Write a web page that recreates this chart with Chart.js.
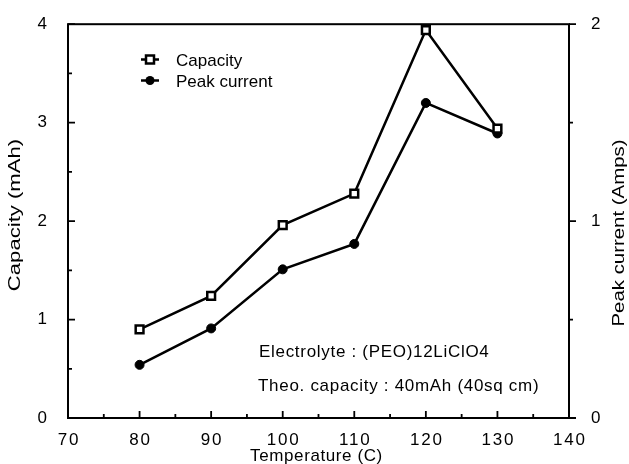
<!DOCTYPE html>
<html><head><meta charset="utf-8">
<script src="https://cdn.jsdelivr.net/npm/chart.js@4/dist/chart.umd.min.js"></script>
<style>html,body{margin:0;padding:0;background:#fff}canvas{display:block}</style>
</head><body>
<canvas id="c" width="629" height="464"></canvas>
<script>
const temperatures = [80, 90, 100, 110, 120, 130];
const capacity = [0.90, 1.24, 1.96, 2.28, 3.94, 2.94];
const peakCurrent = [0.27, 0.455, 0.755, 0.884, 1.60, 1.445];
const xTickLabels = [70, 80, 90, 100, 110, 120, 130, 140];
const seriesNames = ['Capacity', 'Peak current'];
const notes = ['Electrolyte : (PEO)12LiClO4', 'Theo. capacity : 40mAh (40sq cm)'];
const titles = { x: 'Temperature (C)', y: 'Capacity (mAh)', y1: 'Peak current (Amps)' };

const FAM = '"Liberation Sans", Arial, Helvetica, sans-serif';

function txt(ctx, s, x, y) {
  ctx.fillText(s, x, y);
}

const custom = {
  id: 'custom',
  afterDraw(chart) {
    const ctx = chart.ctx, ca = chart.chartArea;
    const sx = chart.scales.x, sy = chart.scales.y, sy1 = chart.scales.y1;
    ctx.save();
    ctx.strokeStyle = '#000'; ctx.fillStyle = '#000'; ctx.lineWidth = 2;
    ctx.strokeRect(ca.left, ca.top, ca.right - ca.left, ca.bottom - ca.top);
    ctx.lineWidth = 1.8;
    ctx.beginPath();
    sx.ticks.forEach(t => {
      const p = sx.getPixelForValue(t.value);
      const len = t.value % 10 === 0 ? 7 : 4;
      ctx.moveTo(p, ca.bottom); ctx.lineTo(p, ca.bottom - len);
    });
    sy.ticks.forEach(t => {
      const p = sy.getPixelForValue(t.value);
      const len = Number.isInteger(t.value) ? 7 : 4;
      ctx.moveTo(ca.left, p); ctx.lineTo(ca.left + len, p);
    });
    sy1.ticks.forEach(t => {
      const p = sy1.getPixelForValue(t.value);
      const len = Number.isInteger(t.value) ? 7 : 4;
      ctx.moveTo(ca.right, p); ctx.lineTo(ca.right + len, p);
    });
    ctx.stroke();

    // x tick labels
    ctx.font = '17px ' + FAM;
    ctx.textAlign = 'center'; ctx.textBaseline = 'middle';
    ctx.letterSpacing = '1.8px';
    xTickLabels.forEach(v => {
      txt(ctx, String(v), sx.getPixelForValue(v) + 0.9, 440);
    });
    // x title
    ctx.letterSpacing = '0.6px';
    ctx.textBaseline = 'alphabetic';
    txt(ctx, titles.x, (ca.left + ca.right) / 2 - 2, 461);

    // y titles (stretched)
    ctx.letterSpacing = '0px';
    ctx.textBaseline = 'middle';
    ctx.save();
    ctx.translate(15, 215); ctx.rotate(-Math.PI / 2); ctx.scale(1.3, 1);
    txt(ctx, titles.y, 0, 0);
    ctx.restore();
    ctx.save();
    ctx.translate(619, 233); ctx.rotate(-Math.PI / 2); ctx.scale(1.2, 1);
    txt(ctx, titles.y1, 0, 0);
    ctx.restore();

    // legend
    const ly = [59.5, 80.5];
    ctx.lineWidth = 2.5;
    ly.forEach((y, i) => {
      ctx.beginPath(); ctx.moveTo(141, y); ctx.lineTo(159, y); ctx.stroke();
      if (i === 0) {
        ctx.fillStyle = '#fff';
        ctx.fillRect(146, y - 4, 8, 8); ctx.strokeRect(146, y - 4, 8, 8);
        ctx.fillStyle = '#000';
      } else {
        ctx.beginPath(); ctx.arc(150, y, 4.5, 0, Math.PI * 2); ctx.fill();
      }
    });
    ctx.textAlign = 'left'; ctx.textBaseline = 'alphabetic';
    txt(ctx, seriesNames[0], 176, 66);
    txt(ctx, seriesNames[1], 176, 87);

    // notes
    ctx.letterSpacing = '0.7px';
    txt(ctx, notes[0], 259, 357);
    txt(ctx, notes[1], 258, 391);
    ctx.restore();
  }
};

new Chart(document.getElementById('c'), {
  type: 'line',
  data: {
    datasets: [
      {
        label: seriesNames[0],
        data: temperatures.map((t, i) => ({ x: t, y: capacity[i] })),
        yAxisID: 'y',
        borderColor: '#000', borderWidth: 2.5, tension: 0,
        pointStyle: 'rect', pointRadius: 5.5,
        pointBackgroundColor: '#fff', pointBorderColor: '#000', pointBorderWidth: 2.5
      },
      {
        label: seriesNames[1],
        data: temperatures.map((t, i) => ({ x: t, y: peakCurrent[i] })),
        yAxisID: 'y1',
        borderColor: '#000', borderWidth: 2.5, tension: 0,
        pointStyle: 'circle', pointRadius: 4.5,
        pointBackgroundColor: '#000', pointBorderColor: '#000', pointBorderWidth: 1
      }
    ]
  },
  options: {
    responsive: false, animation: false, devicePixelRatio: 1,
    layout: { padding: { top: 17, left: 0, right: 0, bottom: 0 } },
    plugins: { legend: { display: false }, tooltip: { enabled: false } },
    scales: {
      x: {
        type: 'linear', min: 70, max: 140,
        ticks: { stepSize: 5, display: false },
        grid: { display: false }, border: { display: false },
        afterFit(s) { s.height = 46; }
      },
      y: {
        position: 'left', min: 0, max: 4,
        ticks: { stepSize: 0.5, autoSkip: false, padding: 13, color: '#000',
          font: { family: FAM, size: 17 },
          callback: v => Number.isInteger(v) ? String(v) : '' },
        grid: { display: false }, border: { display: false },
        afterFit(s) { s.width = 68; }
      },
      y1: {
        position: 'right', min: 0, max: 2,
        ticks: { stepSize: 0.5, autoSkip: false, padding: 14, color: '#000',
          font: { family: FAM, size: 17 },
          callback: v => Number.isInteger(v) ? String(v) : '' },
        grid: { display: false }, border: { display: false },
        afterFit(s) { s.width = 60; }
      }
    }
  },
  plugins: [custom]
});
</script>
</body></html>
